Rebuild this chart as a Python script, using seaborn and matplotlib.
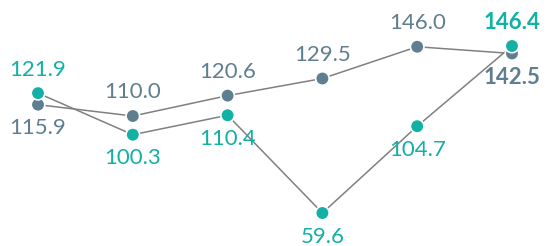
import matplotlib
matplotlib.use("Agg")
import matplotlib.pyplot as plt
import seaborn as sns
import pandas as pd

# data
steps = [0, 1, 2, 3, 4, 5]
gray_values = [115.9, 110.0, 120.6, 129.5, 146.0, 142.5]
teal_values = [121.9, 100.3, 110.4, 59.6, 104.7, 146.4]
gray_label_side = [-1, 1, 1, 1, 1, -1]
teal_label_side = [1, -1, -1, -1, -1, 1]

gray_color = "#5f7f90"
teal_color = "#12b0a5"
line_color = "#808080"

sns.set_theme(style="white")
plt.rcParams["font.family"] = ["Lato", "DejaVu Sans"]

df = pd.DataFrame({
    "step": steps * 2,
    "value": gray_values + teal_values,
    "series": ["gray"] * 6 + ["teal"] * 6,
})

fig = plt.figure(figsize=(5.5, 2.46), dpi=100)
ax = fig.add_axes([0, 0, 1, 1])

sns.lineplot(data=df, x="step", y="value", units="series", estimator=None,
             color=line_color, linewidth=1.1, ax=ax, legend=False)
sns.scatterplot(data=df, x="step", y="value", hue="series",
                palette={"gray": gray_color, "teal": teal_color},
                s=95, edgecolor="white", linewidth=1.2, ax=ax,
                legend=False, zorder=3)

for vals, sides, col in [(gray_values, gray_label_side, gray_color),
                         (teal_values, teal_label_side, teal_color)]:
    for i, (v, s) in enumerate(zip(vals, sides)):
        last = i == len(vals) - 1
        ax.annotate(f"{v:.1f}", (steps[i], v), xytext=(0, 17 * s),
                    textcoords="offset points", ha="center",
                    va="center", color=col, fontsize=16,
                    fontweight="bold" if last else "normal")

ax.set_xlim(-0.401, 5.401)
ax.set_ylim(42.45, 170.3)
ax.axis("off")

fig.savefig("out.png", dpi=100)
